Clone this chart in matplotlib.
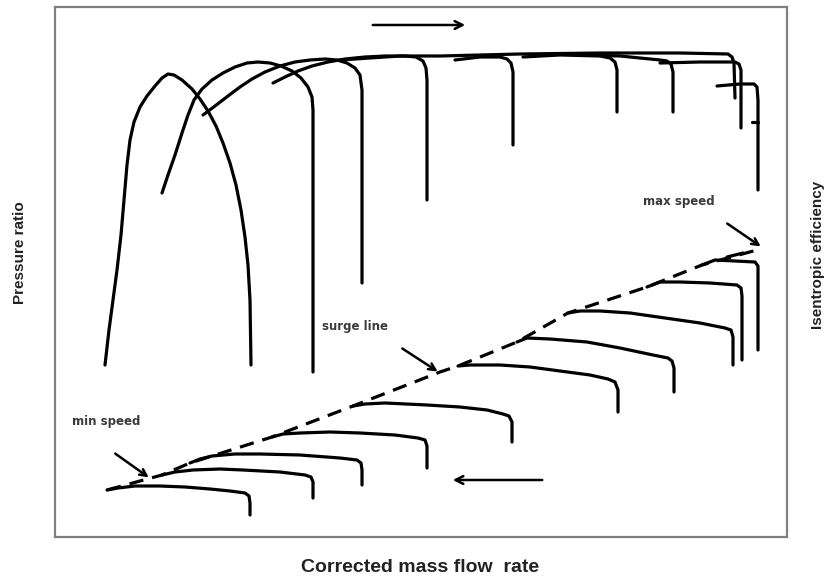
import matplotlib
matplotlib.use("Agg")
import matplotlib.pyplot as plt

# Schematic compressor map.
# Units: horizontal = mass flow (sketch units), vertical = sketch units (axis inverted).

# pressure ratio speed lines (x, y pairs), min speed -> max speed
pr_lines = [
    [(105, 365), (109, 330), (113, 300), (117, 270), (121, 235), (124, 200), (127, 165),
     (130, 140), (134, 122), (140, 107), (147, 96), (155, 86), (162, 78), (168, 74),
     (174, 75), (182, 80), (192, 89), (200, 99), (208, 111), (216, 126), (223, 143),
     (230, 163), (236, 185), (241, 210), (245, 237), (248, 265), (250, 300), (251, 365)],
    [(162, 193), (168, 175), (175, 155), (182, 133), (188, 115), (194, 100), (202, 89),
     (212, 80), (223, 73), (235, 67), (247, 63), (258, 62), (270, 63), (281, 66),
     (292, 71), (301, 78), (308, 87), (312, 97), (313, 110), (313, 200), (313, 372)],
    [(203, 115), (215, 106), (228, 96), (240, 87), (252, 79), (265, 72), (280, 66),
     (295, 62), (310, 60), (325, 59), (337, 60), (347, 63), (355, 68), (360, 75),
     (362, 90), (362, 283)],
    [(273, 83), (285, 77), (298, 71), (312, 66), (328, 62), (345, 59), (365, 57),
     (385, 56), (405, 56), (416, 57), (423, 61), (426, 68), (427, 80), (427, 200)],
    [(340, 60), (400, 56), (440, 56), (520, 54), (600, 53), (680, 53), (728, 54),
     (732, 57), (734, 63), (735, 98)],
    [(455, 60), (480, 57), (500, 57), (507, 59), (511, 63), (513, 72), (513, 145)],
    [(523, 57), (560, 55), (600, 56), (610, 58), (615, 62), (617, 70), (617, 112)],
    [(580, 55), (620, 56), (660, 60), (667, 61), (671, 64), (673, 72), (673, 112)],
    [(660, 63), (700, 62), (735, 62), (739, 64), (741, 70), (741, 128)],
    [(717, 86), (740, 84), (754, 84), (757, 87), (758, 100), (758, 190)],
    [(752, 122), (758, 122)],
]

# isentropic efficiency speed lines
eff_lines = [
    [(107, 490), (118, 488), (135, 486), (160, 486), (185, 487), (210, 489), (230, 491),
     (245, 493), (249, 496), (250, 503), (250, 515)],
    [(162, 475), (175, 472), (193, 470), (220, 469), (243, 470), (280, 472), (305, 475),
     (311, 477), (313, 482), (313, 498)],
    [(190, 463), (200, 459), (212, 456), (235, 454), (260, 454), (300, 455), (340, 458),
     (357, 460), (361, 463), (362, 470), (362, 485)],
    [(272, 437), (283, 434), (300, 433), (330, 432), (360, 433), (395, 435), (418, 438),
     (425, 440), (427, 446), (427, 468)],
    [(353, 406), (365, 404), (385, 403), (427, 405), (460, 407), (487, 410), (503, 414),
     (509, 416), (512, 422), (512, 442)],
    [(458, 366), (470, 365), (500, 365), (530, 367), (560, 371), (590, 375), (608, 379),
     (615, 382), (618, 390), (618, 412)],
    [(517, 342), (527, 338), (550, 339), (587, 342), (620, 348), (653, 355), (668, 358),
     (672, 361), (674, 368), (674, 392)],
    [(568, 313), (580, 311), (600, 311), (630, 313), (665, 318), (700, 323), (725, 328),
     (731, 330), (733, 337), (733, 365)],
    [(647, 287), (660, 282), (680, 282), (710, 283), (737, 285), (741, 288), (742, 296),
     (742, 360)],
    [(702, 265), (715, 260), (735, 261), (755, 262), (758, 266), (758, 280), (758, 350)],
    [(727, 257), (743, 253)],
]

# surge line across the efficiency lines
surge = [(107, 490), (162, 475), (190, 463), (272, 437), (353, 406), (440, 372),
         (458, 366), (517, 342), (568, 313), (647, 287), (702, 265), (757, 250)]

# annotations: label, text position, arrow tail, arrow head
notes = [
    ("surge line", (322, 327), (400, 347), (440, 373)),
    ("min speed", (72, 422), (113, 452), (151, 479)),
    ("max speed", (643, 202), (725, 222), (763, 248)),
]
# direction arrows (tail, head)
dir_arrows = [((370, 25), (468, 25)), ((545, 480), (450, 480))]

fig = plt.figure(figsize=(8.34, 5.81), dpi=100)
ax = fig.add_axes([55 / 834, 1 - 537 / 581, (787 - 55) / 834, (537 - 7) / 581])
ax.set_xlim(55, 787)
ax.set_ylim(537, 7)
ax.set_xticks([])
ax.set_yticks([])
for s in ax.spines.values():
    s.set_color("#808080")
    s.set_linewidth(1.6)

for line in pr_lines + eff_lines:
    xs, ys = zip(*line)
    ax.plot(xs, ys, color="black", lw=2.3, solid_capstyle="round", solid_joinstyle="round")

sx, sy = zip(*surge)
ax.plot(sx, sy, color="black", lw=2.3, ls=(0, (4.5, 2.8)))

for label, tpos, tail, head in notes:
    ax.text(tpos[0], tpos[1], label, fontsize=8.5, fontweight="bold", color="#3a3a3a",
            ha="left", va="center", family="DejaVu Sans")
    ax.annotate("", xy=head, xytext=tail,
                arrowprops=dict(arrowstyle="->", lw=1.8, color="black", mutation_scale=12))

for tail, head in dir_arrows:
    ax.annotate("", xy=head, xytext=tail,
                arrowprops=dict(arrowstyle="->", lw=1.8, color="black", mutation_scale=14))

lab = dict(fontweight="bold", color="#222222", family="Liberation Sans",
           ha="center", va="center")
fig.text(20 / 834, 1 - 253 / 581, "Pressure ratio", rotation=90, fontsize=11, **lab)
fig.text(818 / 834, 1 - 255 / 581, "Isentropic efficiency", rotation=90, fontsize=11, **lab)
fig.text(420 / 834, 1 - 567 / 581, "Corrected mass flow  rate", fontsize=14, **lab)

fig.savefig("out.png", dpi=100)
